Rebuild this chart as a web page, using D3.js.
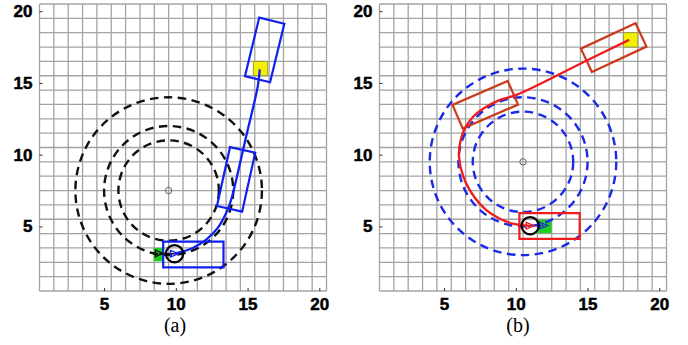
<!DOCTYPE html>
<html>
<head>
<meta charset="utf-8">
<script src="https://cdn.jsdelivr.net/npm/d3@7"></script>
<style>
  body { margin: 0; background: #fff; }
  svg { display: block; }
</style>
</head>
<body>
<svg id="chart" width="688" height="345"></svg>
<script>
// axes
const tickValues = [5, 10, 15, 20];
const gridValues = d3.range(0.5, 21, 1);   // cell borders

// panel (a): blue path, black turning circles
const captionA = '(a)';
const ringCenterA = [9.5, 7.5];
const ringRadiiA = [3.5, 4.5, 6.5];
const pathA = [[9.91, 3.1], [11.18, 3.5], [12.12, 4.08], [12.92, 4.9], [13.51, 5.94],
  [13.86, 6.87], [14.21, 8.26], [14.9, 11.27], [15.71, 14.76], [15.85, 15.95]];
// boxes: cx, cy, length, width, heading (deg)
const boxesA = [[11.22, 3.04, 4.2, 1.8, 0], [14.2, 8.28, 4.2, 1.8, 77.5], [16.19, 17.3, 4.2, 1.8, 76.3]];
const startA = [9.91, 3.1];
const markA = [8.85, 3.12];
const greenA = [8.45, 9.12, 2.57, 3.5];   // x0, x1, y0, y1
const goalA = [15.4, 16.4, 15.5, 16.5];

// panel (b): red path, blue turning circles
const captionB = '(b)';
const ringCenterB = [10.5, 9.5];
const ringRadiiB = [3.5, 4.5, 6.5];
const pathB = [[11.0, 5.03], [10.64, 5.07], [9.6, 5.24], [8.2, 5.94], [7.16, 6.98], [6.34, 8.48],
  [6.04, 9.87], [6.16, 11.04], [6.46, 11.85], [7.04, 12.66], [7.97, 13.35], [8.9, 13.82],
  [10.06, 14.17], [14.94, 16.56], [17.9, 18.0]];
const boxesB = [[12.35, 5.03, 4.2, 1.8, 0], [7.87, 13.48, 4.2, 1.8, 23.5], [16.82, 17.46, 4.2, 1.8, 25]];
const startB = [11.0, 5.05];
const markB = [11.95, 5.06];
const greenB = [11.5, 12.5, 4.53, 5.47];
const goalB = [17.5, 18.5, 17.5, 18.5];

const svg = d3.select('#chart');
const size = 287, plotTop = 4;

function panel(left, o) {
  const x = d3.scaleLinear().domain([0.5, 20.5]).range([left, left + size]);
  const y = d3.scaleLinear().domain([0.5, 20.5]).range([plotTop + size, plotTop]);
  const g = svg.append('g');

  // grid
  g.append('g').selectAll('line').data(gridValues).join('line')
    .attr('x1', d => x(d)).attr('x2', d => x(d)).attr('y1', plotTop).attr('y2', plotTop + size)
    .attr('stroke', '#a3a3a3').attr('stroke-width', 1.3);
  g.append('g').selectAll('line').data(gridValues).join('line')
    .attr('y1', d => y(d)).attr('y2', d => y(d)).attr('x1', left).attr('x2', left + size)
    .attr('stroke', '#a3a3a3').attr('stroke-width', 1.3);

  // axes (ticks inside, bold labels)
  const xa = g.append('g').attr('transform', `translate(0,${plotTop + size})`)
    .call(d3.axisBottom(x).tickValues(tickValues).tickSizeInner(-3).tickSizeOuter(0).tickPadding(7));
  const ya = g.append('g').attr('transform', `translate(${left},0)`)
    .call(d3.axisLeft(y).tickValues(tickValues).tickSizeInner(-3).tickSizeOuter(0).tickPadding(7));
  [xa, ya].forEach(a => {
    a.select('.domain').remove();
    a.selectAll('line').attr('stroke', '#333');
    a.selectAll('text')
      .style('font-family', 'Arial, "Liberation Sans", sans-serif')
      .style('font-size', '17px').style('font-weight', '700')
      .attr('fill', '#000').attr('stroke', '#000').attr('stroke-width', 0.5);
  });

  const cell = ([x0, x1, y0, y1], fill) => g.append('rect')
    .attr('x', x(x0)).attr('y', y(y1)).attr('width', x(x1) - x(x0)).attr('height', y(y0) - y(y1))
    .attr('fill', fill);
  cell(o.green, '#1fcf1f');
  cell(o.goal, '#f4f000').attr('stroke', '#9a9a40').attr('stroke-width', 1);

  // dashed rings
  g.append('g').selectAll('circle').data(o.radii).join('circle')
    .attr('cx', x(o.center[0])).attr('cy', y(o.center[1]))
    .attr('r', d => x(o.center[0] + d) - x(o.center[0]))
    .attr('fill', 'none').attr('stroke', o.ringColor).attr('stroke-width', 2.4)
    .attr('stroke-dasharray', '8.5,5.5');
  g.append('circle').attr('cx', x(o.center[0])).attr('cy', y(o.center[1])).attr('r', 3.2)
    .attr('fill', 'none').attr('stroke', '#666').attr('stroke-width', 1);

  // vehicle boxes
  const corners = ([cx, cy, l, w, a]) => {
    const t = a * Math.PI / 180, c = Math.cos(t), s = Math.sin(t);
    return [[-l / 2, -w / 2], [l / 2, -w / 2], [l / 2, w / 2], [-l / 2, w / 2]]
      .map(([u, v]) => [x(cx + u * c - v * s), y(cy + u * s + v * c)]);
  };
  g.append('g').selectAll('polygon').data(o.boxes).join('polygon')
    .attr('points', d => corners(d).join(' '))
    .attr('fill', 'none').attr('stroke', (d, i) => o.boxColors[i]).attr('stroke-width', 2.2)
    .attr('stroke-linejoin', 'miter');

  // path
  g.append('path').datum(o.path)
    .attr('d', d3.line().x(d => x(d[0])).y(d => y(d[1])).curve(d3.curveCatmullRom.alpha(0.5)))
    .attr('fill', 'none').attr('stroke', o.pathColor).attr('stroke-width', 2.3);

  // connector + arrow heads
  g.append('line').attr('x1', x(o.start[0])).attr('y1', y(o.start[1]))
    .attr('x2', x(o.mark[0])).attr('y2', y(o.mark[1]))
    .attr('stroke', o.linkColor).attr('stroke-width', 1.5);
  const tri = (p, col) => g.append('path')
    .attr('d', 'M-4,-3.3L4,0L-4,3.3Z')
    .attr('transform', `translate(${x(p[0])},${y(p[1])})`)
    .attr('fill', 'none').attr('stroke', col).attr('stroke-width', 1.3);
  tri(o.start, o.startTri);
  tri(o.mark, o.markTri);

  g.append('circle').attr('cx', x(o.start[0])).attr('cy', y(o.start[1])).attr('r', 8.6)
    .attr('fill', 'none').attr('stroke', '#000').attr('stroke-width', 2.2);

  svg.append('text').attr('x', o.capX).attr('y', 332).attr('text-anchor', 'middle')
    .style('font-family', '"Times New Roman", "Liberation Serif", serif').style('font-size', '20px')
    .text(o.caption);
}

panel(39.5, {
  center: ringCenterA, radii: ringRadiiA, ringColor: '#111', path: pathA, pathColor: '#1020f0',
  boxes: boxesA, boxColors: ['#1020f0', '#1020f0', '#1020f0'], start: startA, mark: markA,
  linkColor: '#111', startTri: '#1020f0', markTri: '#111', green: greenA, goal: goalA,
  caption: captionA, capX: 175
});
panel(379.5, {
  center: ringCenterB, radii: ringRadiiB, ringColor: '#1a2ae6', path: pathB, pathColor: '#ee1c1c',
  boxes: boxesB, boxColors: ['#ee1c1c', '#cc3a1c', '#cc3a1c'], start: startB, mark: markB,
  linkColor: '#1a2ae6', startTri: '#ee1c1c', markTri: '#1a2ae6', green: greenB, goal: goalB,
  caption: captionB, capX: 518
});
</script>
</body>
</html>
